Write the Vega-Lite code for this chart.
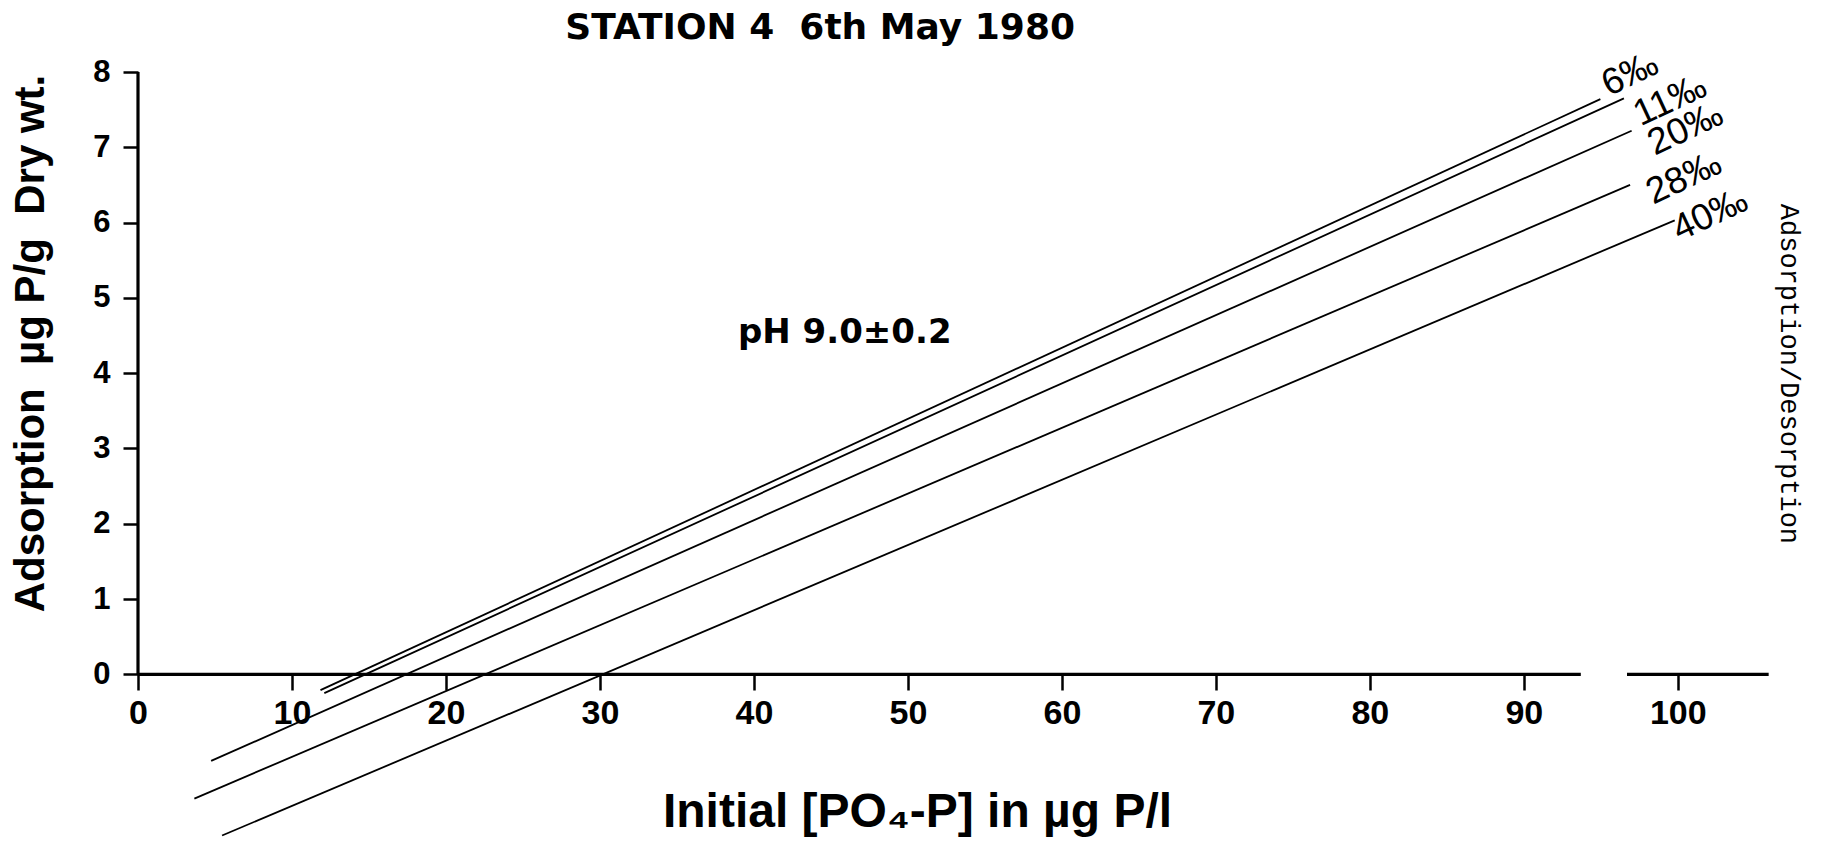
{
  "$schema": "https://vega.github.io/schema/vega-lite/v6.json",
  "autosize": {"type": "none"},
  "padding": {"left": 138, "top": 72, "right": 27, "bottom": 1},
  "width": 1663,
  "height": 768,
  "background": "white",
  "config": {"view": {"stroke": null}},
  "datasets": {
    "axislines": [
      {"x": 0, "x2": 93.7, "y": 0, "y2": 0},
      {"x": 96.7, "x2": 105.9, "y": 0, "y2": 0},
      {"x": 0, "x2": 0, "y": 0, "y2": 8}
    ],
    "curves": [
      {"series": "6‰", "x": 11.85, "y": -0.21},
      {"series": "6‰", "x": 94.97, "y": 7.64},
      {"series": "11‰", "x": 12.1, "y": -0.25},
      {"series": "11‰", "x": 96.5, "y": 7.65},
      {"series": "20‰", "x": 4.75, "y": -1.15},
      {"series": "20‰", "x": 97.0, "y": 7.22},
      {"series": "28‰", "x": 3.66, "y": -1.65},
      {"series": "28‰", "x": 96.9, "y": 6.5},
      {"series": "40‰", "x": 5.46, "y": -2.14},
      {"series": "40‰", "x": 99.8, "y": 6.03}
    ],
    "labels": [
      {"label": "6‰", "x": 96.9, "y": 7.97},
      {"label": "11‰", "x": 99.5, "y": 7.62},
      {"label": "20‰", "x": 100.5, "y": 7.24},
      {"label": "28‰", "x": 100.4, "y": 6.59},
      {"label": "40‰", "x": 102.1, "y": 6.1}
    ],
    "notes": [
      {"label": "pH 9.0±0.2", "x": 45.9, "y": 4.54}
    ],
    "heading": [
      {"label": "STATION 4\u00a0 6th May 1980", "x": 44.3, "y": 8.58}
    ],
    "side": [
      {"label": "Adsorption/Desorption", "x": 107.2, "y": 3.99}
    ]
  },
  "encoding": {
    "x": {
      "field": "x", "type": "quantitative",
      "scale": {"domain": [0, 108], "nice": false, "zero": false},
      "axis": {
        "orient": "bottom", "offset": -166, "domain": false, "grid": false,
        "values": [0, 10, 20, 30, 40, 50, 60, 70, 80, 90, 100],
        "tickSize": 16, "tickWidth": 2.5, "tickColor": "black",
        "labelFont": "Liberation Sans", "labelFontWeight": "bold", "labelFontSize": 34, "labelColor": "black",
        "labelPadding": 6, "labelFlush": false, "labelOverlap": false, "labelBound": false,
        "title": "Initial [PO₄-P] in µg P/l",
        "titleFont": "Liberation Sans", "titleFontWeight": "bold", "titleFontSize": 48, "titleColor": "black",
        "titleX": 779, "titleY": 138, "titleAlign": "center", "titleBaseline": "middle"
      }
    },
    "y": {
      "field": "y", "type": "quantitative",
      "scale": {"domain": [-2.2, 8], "nice": false, "zero": false},
      "axis": {
        "orient": "left", "domain": false, "grid": false,
        "values": [0, 1, 2, 3, 4, 5, 6, 7, 8],
        "tickSize": 15, "tickWidth": 2.5, "tickColor": "black",
        "labelFont": "Liberation Sans", "labelFontWeight": "bold", "labelFontSize": 31, "labelColor": "black",
        "labelPadding": 13, "labelFlush": false, "labelOverlap": false, "labelBound": false,
        "title": "Adsorption\u00a0 µg P/g\u00a0 Dry wt.",
        "titleFont": "Liberation Sans", "titleFontWeight": "bold", "titleFontSize": 42, "titleColor": "black",
        "titleX": -108, "titleY": 271, "titleAngle": 270, "titleAlign": "center", "titleBaseline": "middle"
      }
    }
  },
  "layer": [
    {
      "data": {"name": "axislines"},
      "mark": {"type": "rule", "color": "black", "strokeWidth": 3.2, "clip": false},
      "encoding": {"x2": {"field": "x2"}, "y2": {"field": "y2"}}
    },
    {
      "data": {"name": "curves"},
      "mark": {"type": "line", "color": "black", "strokeWidth": 1.8, "clip": false},
      "encoding": {"detail": {"field": "series", "type": "nominal"}}
    },
    {
      "data": {"name": "labels"},
      "mark": {"type": "text", "font": "Liberation Sans", "fontSize": 37, "color": "black", "angle": -25, "align": "center", "baseline": "middle", "clip": false},
      "encoding": {"text": {"field": "label", "type": "nominal"}}
    },
    {
      "data": {"name": "notes"},
      "mark": {"type": "text", "font": "DejaVu Sans", "fontWeight": "bold", "fontSize": 34, "color": "black", "align": "center", "baseline": "middle"},
      "encoding": {"text": {"field": "label", "type": "nominal"}}
    },
    {
      "data": {"name": "heading"},
      "mark": {"type": "text", "font": "DejaVu Sans", "fontWeight": "bold", "fontSize": 36, "color": "black", "align": "center", "baseline": "middle", "clip": false},
      "encoding": {"text": {"field": "label", "type": "nominal"}}
    },
    {
      "data": {"name": "side"},
      "mark": {"type": "text", "font": "Liberation Mono", "fontSize": 27, "color": "black", "angle": 90, "align": "center", "baseline": "middle", "clip": false},
      "encoding": {"text": {"field": "label", "type": "nominal"}}
    }
  ]
}
